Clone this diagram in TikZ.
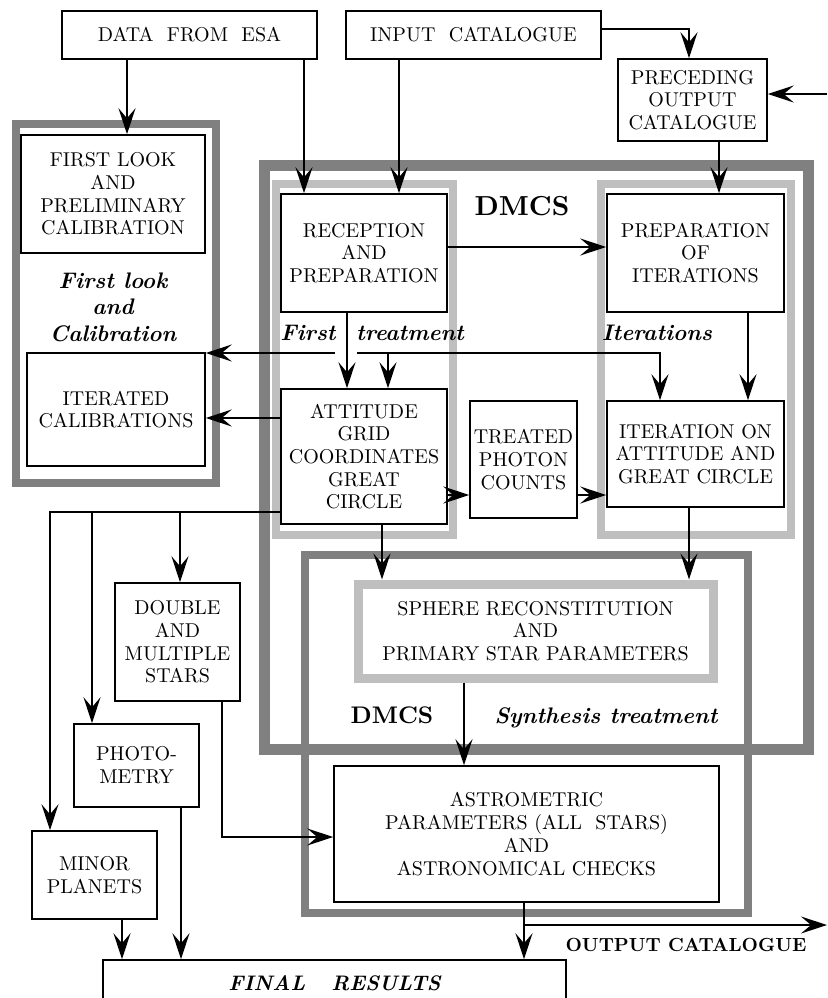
\documentclass[tikz,border=0pt]{standalone}
\usepackage{fontspec}
\setmainfont{lmroman10}[Extension=.otf,UprightFont=*-regular,BoldFont=*-bold,
  ItalicFont=*-italic,BoldItalicFont=*-bolditalic]
\usetikzlibrary{arrows.meta}

\tikzset{
  boite/.style={draw,line width=1.5pt,align=center,inner sep=2pt,
    font=\fontsize{20}{22.7}\selectfont},
  fleche/.style={line width=1.5pt,-{Stealth[length=26pt,width=17pt,inset=10pt]}},
  cadre/.style={draw=black!50,line width=8pt},
  cadreclair/.style={draw=black!25,line width=8pt},
  titre/.style={align=center,font=\fontsize{22.5}{26.5}\selectfont\bfseries\itshape},
}

\begin{document}
\begin{tikzpicture}[x=1pt,y=-1pt]
         \clip (0,0) rectangle (827,998) ;
         %\draw[very thin,gray,step=50] (0,0) grid (827,998) ;
         % cadres gris
         \draw[cadre] (16,124) rectangle (216,483) ;
         \draw[cadre,line width=11pt] (264,165) rectangle (808,749) ;
         \draw[cadre] (305,555) rectangle (748,913) ;
         \draw[cadreclair] (276,184) rectangle (453,535) ;
         \draw[cadreclair] (601,184) rectangle (791,535) ;
         % boites
         \node[boite,minimum width=255pt,minimum height=48pt] (esa) at (189.5,35) {DATA\ \ FROM\ \ ESA} ;
         \node[boite,minimum width=255pt,minimum height=48pt] (input) at (473.5,35) {INPUT\ \ CATALOGUE} ;
         \node[boite,minimum width=149pt,minimum height=82pt] (preced) at (692.5,100) {PRECEDING\\OUTPUT\\CATALOGUE} ;
         \node[boite,minimum width=184pt,minimum height=118pt] (firstlook) at (113,194) {FIRST LOOK\\AND\\PRELIMINARY\\CALIBRATION} ;
         \node[boite,minimum width=178pt,minimum height=113pt] (itercal) at (116,409.5) {ITERATED\\CALIBRATIONS} ;
         \node[boite,minimum width=166pt,minimum height=118pt] (recep) at (364,253) {RECEPTION\\AND\\PREPARATION} ;
         \node[boite,minimum width=177pt,minimum height=118pt] (prepit) at (695.5,253) {PREPARATION\\OF\\ITERATIONS} ;
         \node[boite,minimum width=166pt,minimum height=135pt] (attitude) at (364,456.5) {ATTITUDE\\GRID\\COORDINATES\\GREAT\\CIRCLE} ;
         \node[boite,minimum width=107pt,minimum height=117pt] (photon) at (523.5,459.5) {TREATED\\PHOTON\\COUNTS} ;
         \node[boite,minimum width=177pt,minimum height=106pt] (iteration) at (695.5,454) {ITERATION ON\\ATTITUDE AND\\GREAT CIRCLE} ;
         \node[boite,draw=black!25,line width=9pt,minimum width=355pt,minimum height=94pt] (sphere) at (535.5,631) {SPHERE RECONSTITUTION\\AND\\PRIMARY STAR PARAMETERS} ;
         \node[boite,minimum width=385pt,minimum height=136pt] (astro) at (526.5,834) {ASTROMETRIC\\PARAMETERS (ALL\ \ STARS)\\AND\\ASTRONOMICAL CHECKS} ;
         \node[boite,minimum width=125pt,minimum height=118pt] (double) at (177.5,642) {DOUBLE\\AND\\MULTIPLE\\STARS} ;
         \node[boite,minimum width=125pt,minimum height=83pt] (photo) at (136.5,765.5) {PHOTO-\\METRY} ;
         \node[boite,minimum width=125pt,minimum height=88pt] (minor) at (94.5,875) {MINOR\\PLANETS} ;
         \node[boite,font=\fontsize{21}{24}\selectfont\bfseries\itshape,minimum width=463pt,minimum height=46pt] (final) at (334.5,983) {FINAL\ \ \ RESULTS} ;
         % titres
         \node[titre] (firstlbl) at (113,307) {First look\\and\\Calibration} ;
         \node[font=\fontsize{27.5}{30}\selectfont\bfseries,anchor=base] (dmcshaut) at (522,215) {DMCS} ;
         \node[titre,anchor=base] (firsttr) at (308,340) {First} ;
         \node[titre,anchor=base] (treat) at (410,340) {treatment} ;
         \node[titre,anchor=base] (iterlbl) at (657,340) {Iterations} ;
         \node[font=\fontsize{24}{26}\selectfont\bfseries,anchor=base] (dmcsbas) at (392,723) {DMCS} ;
         \node[titre,anchor=base] (synth) at (606,723) {Synthesis treatment} ;
         \node[font=\fontsize{19}{24}\selectfont\bfseries,anchor=base] (sortielbl) at (686,951) {OUTPUT CATALOGUE} ;
         % fleches
         \draw[fleche] (esa.south -| 127,0) -- (firstlook.north -| 127,0) ;
         \draw[fleche] (esa.south -| 304,0) -- (recep.north -| 304,0) ;
         \draw[fleche] (input.south -| 399,0) -- (recep.north -| 399,0) ;
         \draw[fleche] (input.east |- 0,29) -| (preced.north -| 689,0) ;
         \coordinate (entree) at (827,94) ;
         \draw[fleche] (entree) -- (entree -| preced.east) ;
         \draw[fleche] (preced.south -| 719,0) -- (prepit.north -| 719,0) ;
         \draw[fleche] (recep.east |- 0,247) -- (prepit.west |- 0,247) ;
         \draw[fleche] (recep.south -| 347,0) -- (attitude.north -| 347,0) ;
         \coordinate (busA) at (357,353) ;
         \coordinate (busB) at (335,353) ;
         \draw[fleche] (busA) -| (iteration.north -| 660,0) ;
         \draw[fleche] (busB) -- (busB -| itercal.east) ;
         \draw[fleche] (busA -| 388,0) -- (attitude.north -| 388,0) ;
         \draw[fleche] (attitude.west |- 0,418) -- (itercal.east |- 0,418) ;
         \draw[fleche] (attitude.east |- 0,495) -- (photon.west |- 0,495) ;
         \draw[fleche] (photon.east |- 0,495) -- (iteration.west |- 0,495) ;
         \draw[fleche] (prepit.south -| 748,0) -- (iteration.north -| 748,0) ;
         \draw[fleche] (attitude.south -| 382,0) -- (sphere.north -| 382,0) ;
         \draw[fleche] (iteration.south -| 689,0) -- (sphere.north -| 689,0) ;
         \draw[fleche] (sphere.south -| 464,0) -- (astro.north -| 464,0) ;
         \draw[fleche] (astro.south -| 524,0) -- (final.north -| 524,0) ;
         \coordinate (sortie) at (827,925) ;
         \draw[fleche] (sortie -| 524,0) -- (sortie) ;
         \draw[fleche] (double.south -| 222,0) |- (astro.west |- 0,837) ;
         \coordinate (gauche) at (50,512) ;
         \draw[fleche] (attitude.west |- gauche) -- (gauche) -- (minor.north -| gauche) ;
         \draw[fleche] (gauche -| 92,0) -- (photo.north -| 92,0) ;
         \draw[fleche] (gauche -| 180,0) -- (double.north -| 180,0) ;
         \draw[fleche] (minor.south -| 122,0) -- (final.north -| 122,0) ;
         \draw[fleche] (photo.south -| 181,0) -- (final.north -| 181,0) ;
      \end{tikzpicture}
\end{document}
